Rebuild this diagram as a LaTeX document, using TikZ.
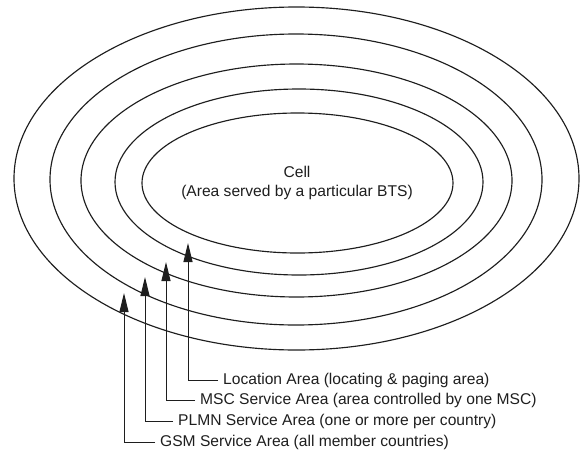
\documentclass[tikz,border=0pt]{standalone}
\usepackage{fontspec}
\setmainfont{Liberation Sans}
\usetikzlibrary{shapes.geometric,arrows.meta}
\definecolor{ink}{RGB}{30,30,30}
\begin{document}
\begin{tikzpicture}[x=1pt,y=-1pt,
  ring/.style={draw=ink, line width=1.15pt, ellipse, inner sep=0pt, outer sep=0pt},
  lbl/.style={anchor=west, inner sep=0pt, text=ink, font=\fontsize{15.6}{19}\selectfont},
  celltxt/.style={align=center, inner sep=0pt, text=ink, font=\fontsize{15.6}{19}\selectfont},
  ptr/.style={draw=ink, line width=1pt, -{Triangle[length=19pt,width=9pt]}}
]
\useasboundingbox (0,0) rectangle (581,453);
% nested areas
\node[ring, minimum width=311pt, minimum height=140pt] (e1) at (297.5,183) {};
\node[ring, minimum width=368pt, minimum height=186pt] (e2) at (299,182) {};
\node[ring, minimum width=431pt, minimum height=233pt] (e3) at (296.5,180.5) {};
\node[ring, minimum width=492pt, minimum height=291pt] (e4) at (296,179.5) {};
\node[ring, minimum width=565pt, minimum height=343pt] (e5) at (296.5,178.5) {};
% cell text
\node[celltxt] (cell) at (297,182.5) {Cell\\(Area served by a particular BTS)};
% arrow tips
\coordinate (tL) at (188,243);
\coordinate (tM) at (166,262);
\coordinate (tP) at (145,277);
\coordinate (tG) at (124,293);
% labels
\node[lbl] (loc) at (223,380) {Location Area (locating \& paging area)};
\node[lbl] (msc) at (200,400.5) {MSC Service Area (area controlled by one MSC)};
\node[lbl] (plmn) at (178,421) {PLMN Service Area (one or more per country)};
\node[lbl] (gsm) at (160,442) {GSM Service Area (all member countries)};
% connectors
\draw[ptr] ([xshift=-5pt]loc.west) -| (tL);
\draw[ptr] ([xshift=-5pt]msc.west) -| (tM);
\draw[ptr] ([xshift=-5pt]plmn.west) -| (tP);
\draw[ptr] ([xshift=-5pt]gsm.west) -| (tG);
\end{tikzpicture}
\end{document}
